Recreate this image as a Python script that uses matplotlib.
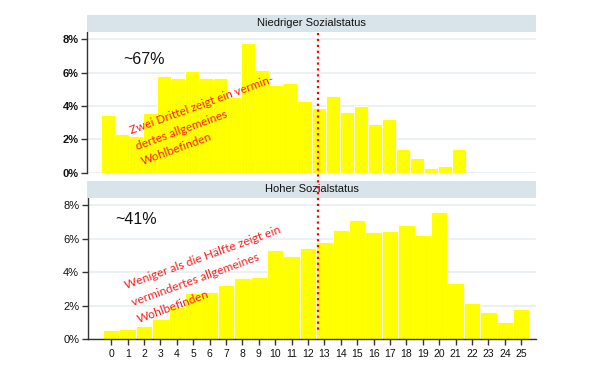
import matplotlib
matplotlib.use('Agg')
import matplotlib.pyplot as plt
from matplotlib.lines import Line2D
from matplotlib.patches import Rectangle

# ---- data ----
scores = list(range(26))
tick_labels = [str(s) for s in scores]
niedrig = [3.46, 2.32, 2.20, 3.56, 5.80, 5.66, 6.10, 5.66, 5.66, 4.52, 7.76, 6.16, 5.24,
           5.38, 4.30, 3.90, 4.60, 3.64, 4.02, 2.92, 3.22, 1.42, 0.90, 0.30, 0.42, 1.42]
hoch = [0.56, 0.62, 0.79, 1.21, 1.94, 2.78, 2.82, 3.21, 3.67, 3.69, 5.32, 4.96, 5.44,
        5.80, 6.55, 7.10, 6.40, 6.46, 6.80, 6.20, 7.60, 3.33, 2.18, 1.62, 1.04, 1.80]
panel_titles = ["Niedriger Sozialstatus", "Hoher Sozialstatus"]
share_labels = ["~67%", "~41%"]
notes = ["Zwei Drittel zeigt ein vermin-\ndertes allgemeines\nWohlbefinden",
         "Weniger als die Hälfte zeigt ein\nvermindertes allgemeines\nWohlbefinden"]
yticks = [0, 2, 4, 6, 8]

W, H = 600, 383
fig = plt.figure(figsize=(6, 3.83), dpi=100)
fig.patch.set_facecolor('white')

def fx(px):
    return px / W

def fy(py):
    return 1 - py / H

BAR = '#ffff00'
GRID = '#e6eef1'
STRIP = '#d9e4ea'
SPINE = '#333333'
FONT = 'Liberation Sans'

ax_top = fig.add_axes([fx(87), fy(172.7), fx(536) - fx(87), (172.7 - 32) / H])
ax_bot = fig.add_axes([fx(87.5), fy(339.3), fx(536) - fx(87.5), (339.3 - 198) / H])

for ax, vals, bold in [(ax_top, niedrig, True), (ax_bot, hoch, False)]:
    ax.bar(scores, vals, width=1.0, color=BAR, edgecolor='white', linewidth=0.6, zorder=2)
    ax.set_ylim(0, 8.43)
    ax.set_yticks(yticks)
    ax.set_yticklabels([f"{v}%" for v in yticks], fontsize=8, family=FONT,
                       fontweight='bold' if bold else 'normal', color='#111111')
    ax.yaxis.grid(True, color=GRID, linewidth=1.2, zorder=0)
    ax.set_axisbelow(True)
    for s in ['top', 'right']:
        ax.spines[s].set_visible(False)
    ax.spines['left'].set_color(SPINE)
    ax.spines['left'].set_linewidth(1.0)
    ax.tick_params(axis='y', direction='out', length=4, width=1, color=SPINE, pad=2)

ax_top.set_xlim(-1.52, 30.52)
ax_top.spines['bottom'].set_visible(False)
ax_top.set_xticks([])

ax_bot.set_xlim(-1.45, 25.9)
ax_bot.set_xticks(scores)
ax_bot.set_xticklabels(tick_labels, fontsize=7.5, family=FONT, color='#111111')
ax_bot.spines['bottom'].set_color(SPINE)
ax_bot.spines['bottom'].set_linewidth(1.0)
ax_bot.tick_params(axis='x', direction='out', length=4, width=1, color=SPINE, pad=3)

# strip headers
for (y0, y1, left), title in zip([(15, 32, 87), (181, 198, 87)], panel_titles):
    fig.add_artist(Rectangle((fx(left), fy(y1)), fx(536) - fx(left), (y1 - y0) / H,
                             transform=fig.transFigure, facecolor=STRIP, edgecolor='none'))
    fig.text(fx(311.5), fy((y0 + y1) / 2), title, ha='center', va='center',
             fontsize=8, family=FONT, color='#111111')

# share labels
fig.text(fx(143.7), fy(59), share_labels[0], ha='center', va='center',
         fontsize=11.5, family=FONT, color='#111111')
fig.text(fx(136.3), fy(219), share_labels[1], ha='center', va='center',
         fontsize=11.5, family=FONT, color='#111111')

# red notes (anchor = baseline start of last line)
fig.text(fx(140.7), fy(160), notes[0], ha='left', va='baseline', rotation=20,
         rotation_mode='anchor', fontsize=8.5, family='Lato', color='#ff1a1a', linespacing=1.57)
fig.text(fx(136.7), fy(316.7), notes[1], ha='left', va='baseline', rotation=20,
         rotation_mode='anchor', fontsize=8.65, family='Lato', color='#ff1a1a', linespacing=1.8)

# red dotted marker line
fig.add_artist(Line2D([fx(318.3)] * 2, [fy(33), fy(331)], color='red', linestyle=':',
                      linewidth=1.6, transform=fig.transFigure, zorder=10))

fig.savefig('out.png', dpi=100)
